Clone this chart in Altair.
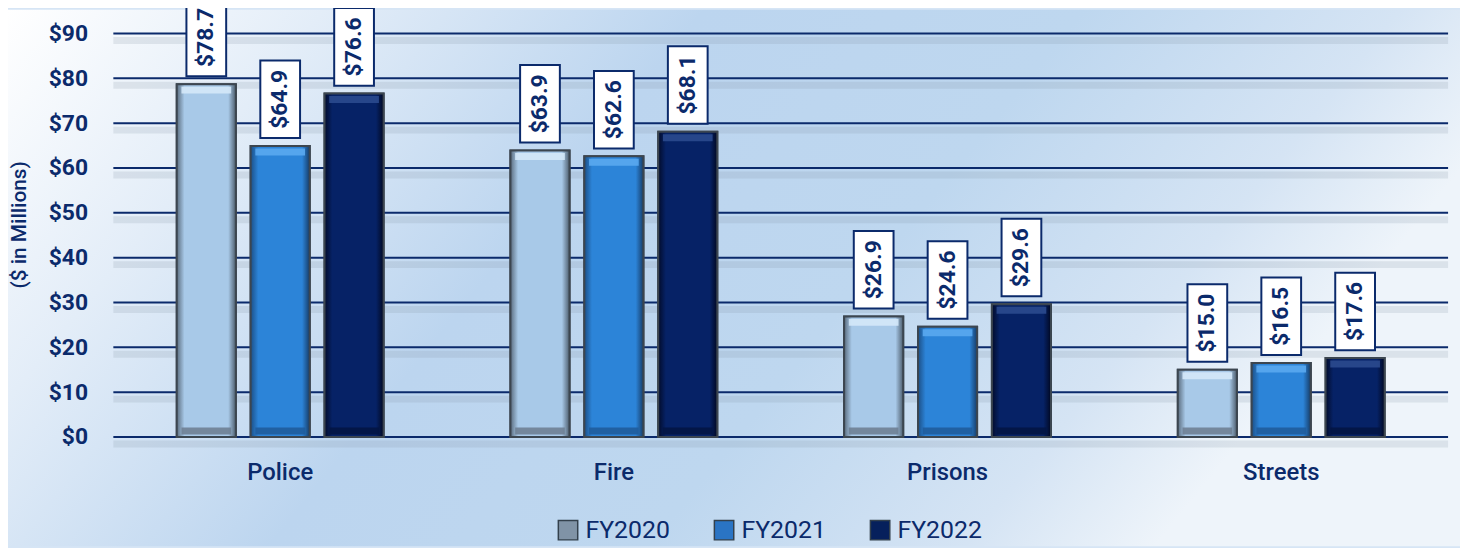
import altair as alt
import pandas as pd

categories = ["Police", "Fire", "Prisons", "Streets"]
series = ["FY2020", "FY2021", "FY2022"]
fy2020 = [78.7, 63.9, 26.9, 15.0]
fy2021 = [64.9, 62.6, 24.6, 16.5]
fy2022 = [76.6, 68.1, 29.6, 17.6]
y_ticks = [0, 10, 20, 30, 40, 50, 60, 70, 80, 90]

rows = []
for s, vals in zip(series, [fy2020, fy2021, fy2022]):
    for c, v in zip(categories, vals):
        rows.append({"Category": c, "Series": s, "Value": v, "Zero": 0,
                     "Label": f"${v:.1f}"})
df = pd.DataFrame(rows)
grid_df = pd.DataFrame({"v": y_ticks})
bg_df = pd.DataFrame({"a": [0]})

W, H = 1343, 406
NAVY = "#0b2a6b"
FONT = "Roboto"

x_enc = alt.X("Category:N", sort=categories,
              scale=alt.Scale(paddingInner=0.38, paddingOuter=0.19),
              axis=alt.Axis(title=None, labelAngle=0, labelFontSize=24, labelFont=FONT,
                            labelFontWeight=500, labelColor=NAVY, labelPadding=24,
                            ticks=False, domain=False, zindex=2))
xo_enc = alt.XOffset("Series:N", sort=series,
                     scale=alt.Scale(paddingInner=0.2, paddingOuter=0))
y_enc = alt.Y("Value:Q", scale=alt.Scale(domain=[0, 90], nice=False),
              axis=alt.Axis(values=y_ticks, format="$.0f", grid=False, domain=False,
                            ticks=False, labelPadding=26, labelFontSize=23,
                            labelFont=FONT, labelFontWeight="bold", labelColor=NAVY,
                            title="($ in Millions)", titleFont=FONT, titleFontSize=21,
                            titleFontWeight=500, titleColor=NAVY, titleAngle=270,
                            titleX=-94, titleY=192, titleAlign="center",
                            titleBaseline="middle", zindex=2))

bg = alt.Chart(bg_df).mark_rect(
    color=alt.Gradient(gradient="linear", x1=0, x2=1, y1=0, y2=0.3, stops=[
        alt.GradientStop(offset=0, color="#ffffff"),
        alt.GradientStop(offset=0.2, color="#e3edf8"),
        alt.GradientStop(offset=0.44, color="#bcd5ef"),
        alt.GradientStop(offset=0.68, color="#bed7ef"),
        alt.GradientStop(offset=0.88, color="#d5e4f4"),
        alt.GradientStop(offset=1, color="#eef4fa")])
).encode(x=alt.value(-106), x2=alt.value(W + 12), y=alt.value(-24), y2=alt.value(H + 110))

grid_shadow = alt.Chart(grid_df).mark_rule(color="#7f8fa0", opacity=0.18, strokeWidth=7,
                                           yOffset=7).encode(
    y=alt.Y("v:Q"), x=alt.value(0), x2=alt.value(W))
grid = alt.Chart(grid_df).mark_rule(color=NAVY, strokeWidth=2).encode(
    y=alt.Y("v:Q"), x=alt.value(0), x2=alt.value(W))

base = alt.Chart(df)

bars = base.mark_bar(stroke="#3c4650", strokeWidth=2).encode(
    x=x_enc, xOffset=xo_enc, y=y_enc,
    color=alt.Color("Series:N", sort=series,
                    scale=alt.Scale(domain=series, range=["#8093a6", "#2a74c4", "#06205c"]),
                    legend=alt.Legend(title=None, orient="none", direction="horizontal",
                                      legendX=445, legendY=487, symbolType="square",
                                      symbolSize=380, symbolStrokeColor="#33404c",
                                      symbolStrokeWidth=1.5, labelFontSize=25,
                                      labelFont=FONT, labelColor=NAVY, labelOffset=5,
                                      columnPadding=40, padding=0, zindex=2)))

grads = {
    "FY2020": ["#5a6c7e", "#a8c9e8", "#a8c9e8", "#4d5d6d"],
    "FY2021": ["#1c4f86", "#2c84d8", "#2c84d8", "#163c68"],
    "FY2022": ["#020b2a", "#062266", "#062266", "#010822"],
}
tops = {"FY2020": "#d4e8f8", "FY2021": "#5aa8ef", "FY2022": "#2b4a8e"}
bottoms = {"FY2020": "#6e8094", "FY2021": "#1f5c9c", "FY2022": "#031544"}

overlays = []
for s in series:
    g = grads[s]
    overlays.append(base.transform_filter(alt.datum.Series == s).mark_bar(
        stroke="#3c4650", strokeWidth=2,
        color=alt.Gradient(gradient="linear", x1=0, x2=1, y1=0, y2=0, stops=[
            alt.GradientStop(offset=0, color=g[0]),
            alt.GradientStop(offset=0.13, color=g[1]),
            alt.GradientStop(offset=0.87, color=g[2]),
            alt.GradientStop(offset=1, color=g[3])])
    ).encode(x=x_enc, xOffset=xo_enc, y=y_enc))
    overlays.append(base.transform_filter(alt.datum.Series == s).mark_tick(
        color=tops[s], thickness=7, size=50, yOffset=6, opacity=0.9
    ).encode(x=x_enc, xOffset=xo_enc, y=y_enc))
    overlays.append(base.transform_filter(alt.datum.Series == s).mark_tick(
        color=bottoms[s], thickness=7, size=50, yOffset=-6, opacity=0.9
    ).encode(x=x_enc, xOffset=xo_enc, y=alt.Y("Zero:Q")))

boxes = base.mark_point(
    shape="M-1,-1.95L1,-1.95L1,1.95L-1,1.95Z", size=1600, filled=True,
    fill="white", stroke=NAVY, strokeWidth=2, opacity=1, yOffset=-47
).encode(x=x_enc, xOffset=xo_enc, y=y_enc)

labels = base.mark_text(
    angle=270, fontSize=23, fontWeight="bold", font=FONT, color=NAVY,
    align="center", baseline="middle", yOffset=-47
).encode(x=x_enc, xOffset=xo_enc, y=y_enc, text="Label:N")

chart = alt.layer(bg, grid_shadow, grid, bars, *overlays, boxes, labels).properties(
    width=W, height=H,
    autosize=alt.AutoSizeParams(type="none"),
    padding={"left": 106, "top": 24, "right": 12, "bottom": 110},
).configure(background="#d6e5f5").configure_view(stroke=None)

chart.save("out.html", embed_options={"renderer": "svg", "actions": False})
